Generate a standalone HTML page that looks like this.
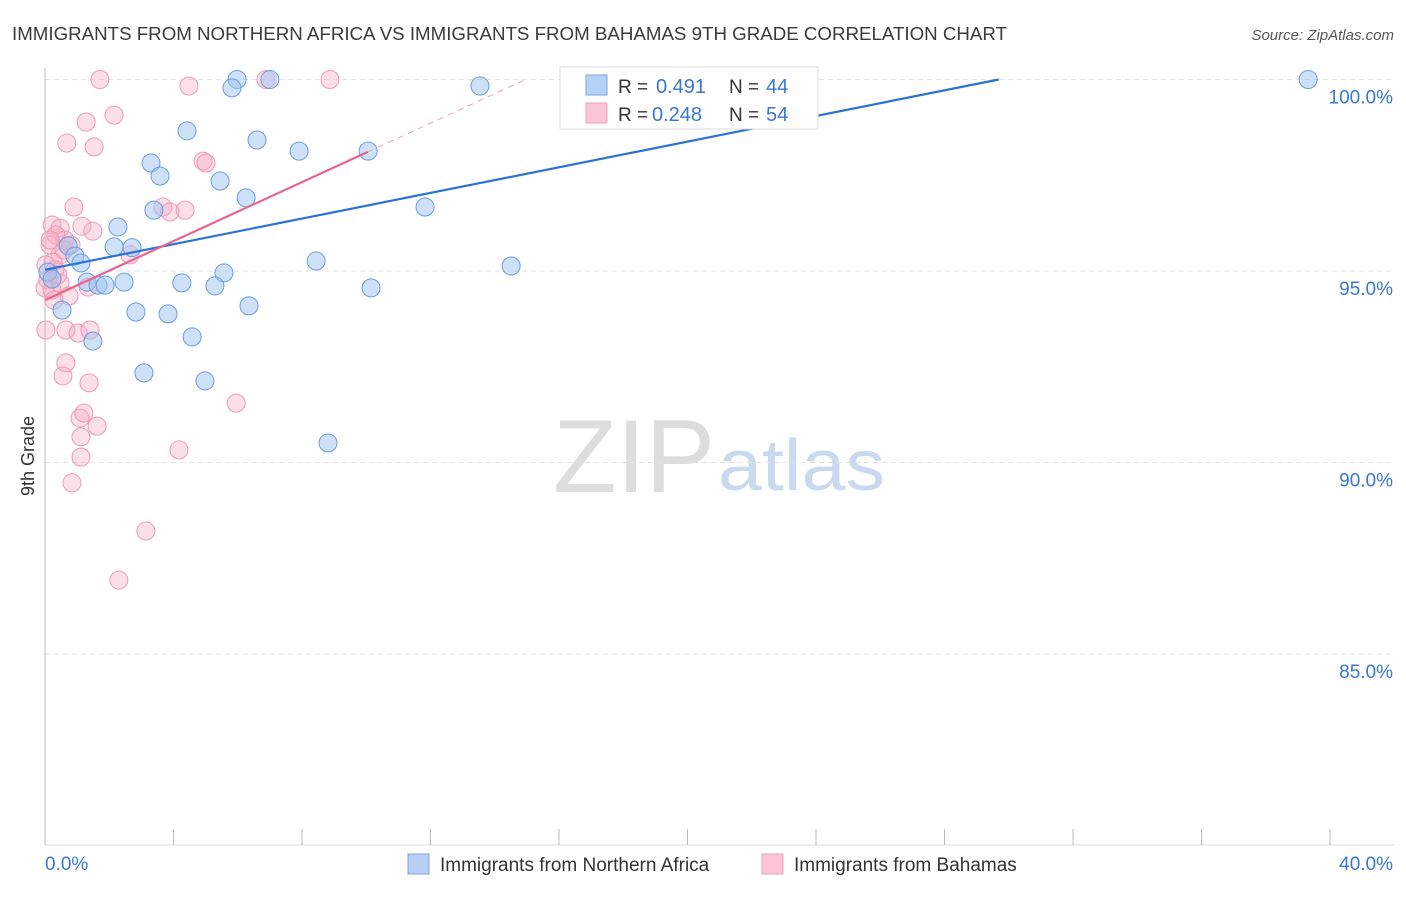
<!DOCTYPE html>
<html><head><meta charset="utf-8"><style>
body{margin:0;background:#fff;font-family:"Liberation Sans",sans-serif}
svg text{font-family:"Liberation Sans",sans-serif}
</style></head><body>
<svg id="chart" width="1406" height="892" xmlns="http://www.w3.org/2000/svg">
<text x="12" y="40" font-size="18" fill="#3a3a3a" textLength="995" lengthAdjust="spacingAndGlyphs">IMMIGRANTS FROM NORTHERN AFRICA VS IMMIGRANTS FROM BAHAMAS 9TH GRADE CORRELATION CHART</text>
<text x="1394" y="40" font-size="15" fill="#555" text-anchor="end" font-style="italic">Source: ZipAtlas.com</text>
<g>
<text x="553" y="492" font-size="104" fill="#ddd" font-family="Liberation Serif,serif" textLength="162" lengthAdjust="spacingAndGlyphs">ZIP</text>
<text x="718" y="490" font-size="72" fill="#c9daf0" textLength="167" lengthAdjust="spacingAndGlyphs">atlas</text>
</g>
<g id="grid"></g>
<g id="axes"></g>
<g id="marks"></g>
<g id="trends"></g>
<g>
<rect x="560" y="67" width="258" height="62" fill="#fff" stroke="#ddd"/>
<rect x="586" y="75" width="21" height="20" fill="#b7d0f5" stroke="#7aa7e6"/>
<rect x="586" y="103" width="21" height="20" fill="#fcc6d6" stroke="#f0a0b8"/>
<text x="618" y="93" font-size="19" fill="#333">R = </text><text x="656" y="93" font-size="20" fill="#3a78d0">0.491</text>
<text x="729" y="93" font-size="19" fill="#333">N = </text><text x="766" y="93" font-size="20" fill="#3a78d0">44</text>
<text x="618" y="121" font-size="19" fill="#333">R = </text><text x="652" y="121" font-size="20" fill="#3a78d0">0.248</text>
<text x="729" y="121" font-size="19" fill="#333">N = </text><text x="766" y="121" font-size="20" fill="#3a78d0">54</text>
</g>
<g>
<rect x="408" y="854" width="21" height="20" fill="#b7d0f5" stroke="#7aa7e6"/>
<text x="440" y="871" font-size="19" fill="#333">Immigrants from Northern Africa</text>
<rect x="762" y="854" width="21" height="20" fill="#fcc6d6" stroke="#f0a0b8"/>
<text x="794" y="871" font-size="19" fill="#333">Immigrants from Bahamas</text>
</g>
<text transform="translate(34,456) rotate(-90)" font-size="18" fill="#333" text-anchor="middle">9th Grade</text>
</svg>
<script>
const yTicks=[100,95,90,85];
const yTickLabels=["100.0%","95.0%","90.0%","85.0%"];
const xLabels=["0.0%","40.0%"];
const blueX=[5.98,7.00,5.82,13.54,39.32,4.42,6.60,7.91,10.06,3.30,3.58,5.45,6.26,3.39,11.83,2.27,2.15,2.71,0.72,0.93,1.12,8.44,14.51,5.57,0.09,0.22,1.31,1.65,1.87,2.46,4.26,5.29,10.15,0.53,2.83,3.83,6.35,1.49,4.58,3.08,4.98,8.81,19.21,20.14];
const blueY=[100,100,99.78,99.83,100,98.66,98.42,98.13,98.13,97.82,97.48,97.35,96.91,96.59,96.67,96.15,95.63,95.61,95.66,95.39,95.21,95.26,95.13,94.95,94.97,94.79,94.71,94.63,94.63,94.71,94.69,94.61,94.56,93.98,93.93,93.88,94.09,93.17,93.28,92.34,92.13,90.51,100,100];
const pinkX=[1.71,6.88,8.87,4.48,2.15,1.28,0.68,1.53,4.92,5.01,3.67,4.36,3.89,0.90,0.22,0.47,1.15,1.49,0.34,0.62,0.81,0.16,0.47,0.25,0.03,0.31,0.09,2.65,0.47,1.34,0.75,0,0.03,0.65,1.03,1.40,0.65,0.56,1.37,1.09,1.21,1.12,1.62,1.12,0.84,4.17,5.95,3.14,2.30,0.22,0.28,0.16,0.40,0.59];
const pinkY=[100,100,100,99.83,99.07,98.89,98.34,98.24,97.87,97.82,96.67,96.59,96.54,96.67,96.20,96.12,96.17,96.04,95.94,95.81,95.68,95.68,95.42,95.23,95.16,95.03,94.77,95.42,94.69,94.58,94.35,94.56,93.46,93.46,93.38,93.46,92.60,92.26,92.08,91.16,91.29,90.67,90.95,90.14,89.47,90.33,91.55,88.21,86.93,94.50,94.24,95.81,94.90,95.55];
const blueTrend=[95.03,0.1674];
const pinkTrend=[94.24,0.385];
const NS="http://www.w3.org/2000/svg";
const sx=v=>45+v/40*1285;
const sy=v=>79.5+(100-v)*38.3;
function mk(t,a,p){const e=document.createElementNS(NS,t);for(const k in a)e.setAttribute(k,a[k]);document.getElementById(p).appendChild(e);return e;}
yTicks.forEach((t,i)=>{
 const l=mk('line',{x1:45,x2:1394,y1:sy(t),y2:sy(t),stroke:'#e2e2e2','stroke-dasharray':'5,4'},'grid');
 
 
 const tx=mk('text',{x:1393,y:sy(t)+24,'font-size':19,fill:'#3a78d0','text-anchor':'end'},'grid');
 tx.textContent=yTickLabels[i];
 
 
});
mk('line',{x1:45,x2:45,y1:68,y2:845,stroke:'#bbb'},'axes');
mk('line',{x1:45,x2:1394,y1:845,y2:845,stroke:'#ddd'},'axes');
for(let i=0;i<=10;i++){const x=sx(i*4);const t=mk('line',{x1:x,x2:x,y1:829,y2:845,stroke:'#bbb'},'axes');
 
 }
const xl0=mk('text',{x:45,y:870,'font-size':19,fill:'#3a78d0'},'axes');xl0.textContent=xLabels[0];


const xl1=mk('text',{x:1393,y:870,'font-size':19,fill:'#3a78d0','text-anchor':'end'},'axes');xl1.textContent=xLabels[1];


pinkX.forEach((v,i)=>{const c=mk('circle',{cx:sx(v),cy:sy(pinkY[i]),r:9,fill:'rgba(248,170,195,0.38)',stroke:'#ef9ab5','stroke-width':1},'marks');
 
 });
blueX.forEach((v,i)=>{const c=mk('circle',{cx:sx(v),cy:sy(blueY[i]),r:9,fill:'rgba(160,195,240,0.5)',stroke:'#6a9de0','stroke-width':1},'marks');
 
 });
const bEnd=(100-blueTrend[0])/blueTrend[1];
const bl=mk('line',{x1:sx(0),y1:sy(blueTrend[0]),x2:sx(bEnd),y2:sy(100),stroke:'#2a72d6','stroke-width':2.2},'trends');


const pEnd=10.05,pDash=(100-pinkTrend[0])/pinkTrend[1];
const pl=mk('line',{x1:sx(0),y1:sy(pinkTrend[0]),x2:sx(pEnd),y2:sy(pinkTrend[0]+pinkTrend[1]*pEnd),stroke:'#e8648f','stroke-width':2.2},'trends');


const pd=mk('line',{x1:sx(pEnd),y1:sy(pinkTrend[0]+pinkTrend[1]*pEnd),x2:sx(pDash),y2:sy(100),stroke:'#f0a0b8','stroke-width':1,'stroke-dasharray':'6,5'},'trends');


</script>
</body></html>
